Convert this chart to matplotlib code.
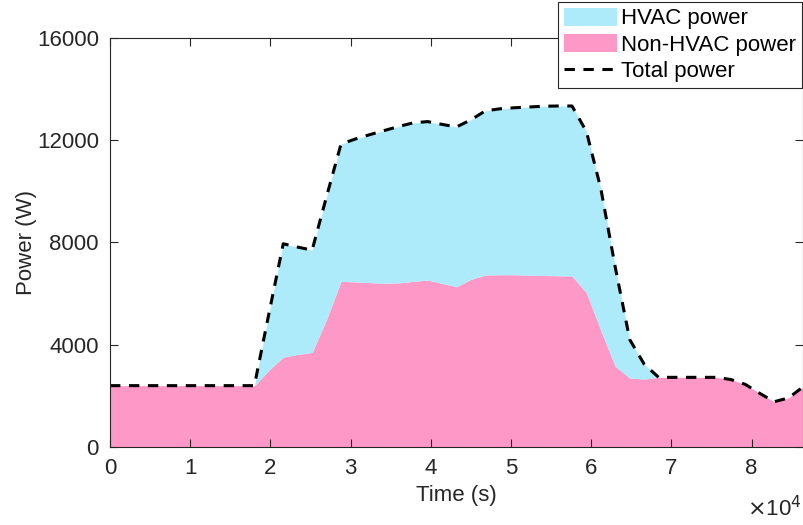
import numpy as np
import matplotlib.pyplot as plt

# time grid every 30 min (s)
time_s = [0, 1800, 3600, 5400, 7200, 9000, 10800, 12600, 14400, 16200,
          18000, 19800, 21600, 23400, 25200, 27000, 28800, 30600, 32400, 34200,
          36000, 37800, 39600, 41400, 43200, 45000, 46800, 48600, 50400, 52200,
          54000, 55800, 57600, 59400, 61200, 63000, 64800, 66600, 68400, 70200,
          72000, 73800, 75600, 77400, 79200, 81000, 82800, 84600, 86400]

total_power = [2400, 2400, 2400, 2400, 2400, 2400, 2400, 2400, 2400, 2400,
               2400, 5200, 7950, 7820, 7700, 9800, 11850, 12050, 12220, 12380,
               12540, 12680, 12730, 12620, 12520, 12800, 13150, 13230, 13270, 13300,
               13330, 13340, 13340, 12340, 10100, 7020, 4200, 3240, 2725, 2725,
               2725, 2725, 2725, 2640, 2450, 2100, 1770, 1920, 2350]

nonhvac_power = [2400, 2400, 2400, 2400, 2400, 2400, 2400, 2400, 2400, 2400,
                 2400, 3000, 3520, 3620, 3700, 4990, 6480, 6460, 6430, 6410,
                 6420, 6480, 6530, 6400, 6270, 6560, 6730, 6740, 6740, 6720,
                 6710, 6700, 6690, 6030, 4550, 3150, 2700, 2660, 2725, 2725,
                 2725, 2725, 2725, 2640, 2450, 2100, 1770, 1920, 2350]

x_ticks = [0, 10000, 20000, 30000, 40000, 50000, 60000, 70000, 80000]
x_ticklabels = ['0', '1', '2', '3', '4', '5', '6', '7', '8']
y_ticks = [0, 4000, 8000, 12000, 16000]

t = np.array(time_s)
tot = np.array(total_power)
non = np.array(nonhvac_power)
hvac = tot - non

plt.rcParams['font.family'] = ['Liberation Sans', 'DejaVu Sans']
plt.rcParams['font.size'] = 16

fig = plt.figure(figsize=(8.04, 5.25), dpi=100)
ax = fig.add_axes([110/804, 78/525, 693/804, 409/525])

ax.fill_between(t, 0, non, color='#FE99C7', lw=0, label='Non-HVAC power')
ax.fill_between(t, non, non + hvac, color='#ADEBFB', lw=0, label='HVAC power')
ax.plot(t, tot, color='black', ls='--', lw=2.2, dashes=(3.4, 2.8), label='Total power')

ax.set_xlim(0, 86400)
ax.set_ylim(0, 16000)
ax.set_xticks(x_ticks)
ax.set_xticklabels(x_ticklabels)
ax.set_yticks(y_ticks)
ax.tick_params(direction='in', length=6, width=0.8, colors='#262626',
               top=True, right=True, labelsize=16, pad=8)
for s in ax.spines.values():
    s.set_color('#262626')
    s.set_linewidth(0.8)
ax.set_xlabel('Time (s)', fontsize=16, color='#262626', labelpad=4)
ax.set_ylabel('Power (W)', fontsize=16, color='#262626', labelpad=0)
ax.text(0.998, -0.12, r'$\times$10$^4$', transform=ax.transAxes, ha='right',
        va='top', fontsize=16, color='#262626')

h, l = ax.get_legend_handles_labels()
leg = ax.legend([h[1], h[0], h[2]], [l[1], l[0], l[2]], loc='upper right',
                bbox_to_anchor=(802/804, 523/525), bbox_transform=fig.transFigure,
                fontsize=16, frameon=True, fancybox=False, framealpha=1,
                handlelength=2.4, handleheight=0.9, handletextpad=0.2,
                labelspacing=0.2, borderpad=0.25, borderaxespad=0)
leg.get_frame().set_edgecolor('#262626')
leg.get_frame().set_linewidth(0.8)

fig.savefig('out.png', dpi=100)
